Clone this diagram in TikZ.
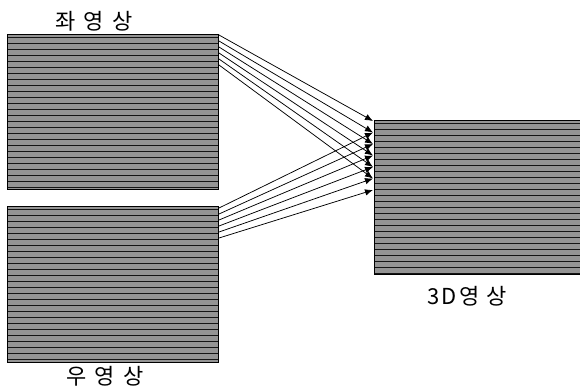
\documentclass[tikz,border=0pt]{standalone}
\usepackage{fontspec}
\newfontfamily\krfont{Noto Sans CJK KR}
\usetikzlibrary{arrows.meta,positioning,calc}
\definecolor{stripegray}{HTML}{949494}
\definecolor{stripeline}{HTML}{141414}
\newcommand{\kgap}{\hspace{8pt}}

\begin{document}
\begin{tikzpicture}[
  x=1pt, y=-1pt,
  >={Latex[length=8pt,width=6.5pt]},
  imgbox/.style={
    draw=black,
    fill=stripegray,
    line width=1pt,
    inner sep=0pt,
    anchor=north west,
    path picture={
      \foreach \k in {0,6,...,400}
        \draw[stripeline, line width=1.6pt]
          ([yshift=-\k pt-3pt]path picture bounding box.north west) --
          ([yshift=-\k pt-3pt]path picture bounding box.north east);
    }
  },
  caption/.style={font=\krfont\fontsize{22}{26}\selectfont, inner sep=0pt},
  ray/.style={->, line width=0.75pt}
]

  % canvas
  \useasboundingbox (0,0) rectangle (580,391);

  % Input images (left / right view)
  \node[imgbox, minimum width=211pt, minimum height=155pt] (limg) at (7,34) {};
  \node[imgbox, minimum width=211pt, minimum height=156pt] (rimg) at (7,206) {};

  % Output image
  \node[imgbox, minimum width=206pt, minimum height=154pt] (img3d) at (374,120) {};

  % Captions
  \node[caption] (lcap) at (94,21) {좌\kgap 영\kgap 상};
  \node[caption] (rcap) at (105,376) {우\kgap 영\kgap 상};
  \node[caption] (cap3d) at (467,296) {3\kern2pt D\kern3pt 영\kern6pt 상};

  % Ray end points on the 3D image
  \foreach \i in {0,...,6}
    \coordinate (tip\i) at ($(img3d.north west)+(-1pt,-1pt-11.5*\i pt)$);

  % Rays from the left image
  \foreach \i in {0,...,5}
    \draw[ray] ($(limg.north east)+(0,-1pt-6*\i pt)$) -- (tip\i);

  % Rays from the right image
  \foreach \i in {1,...,6}
    \draw[ray] ($(rimg.north east)+(0,-2pt-6*\i pt+6pt)$) -- (tip\i);

\end{tikzpicture}
\end{document}
